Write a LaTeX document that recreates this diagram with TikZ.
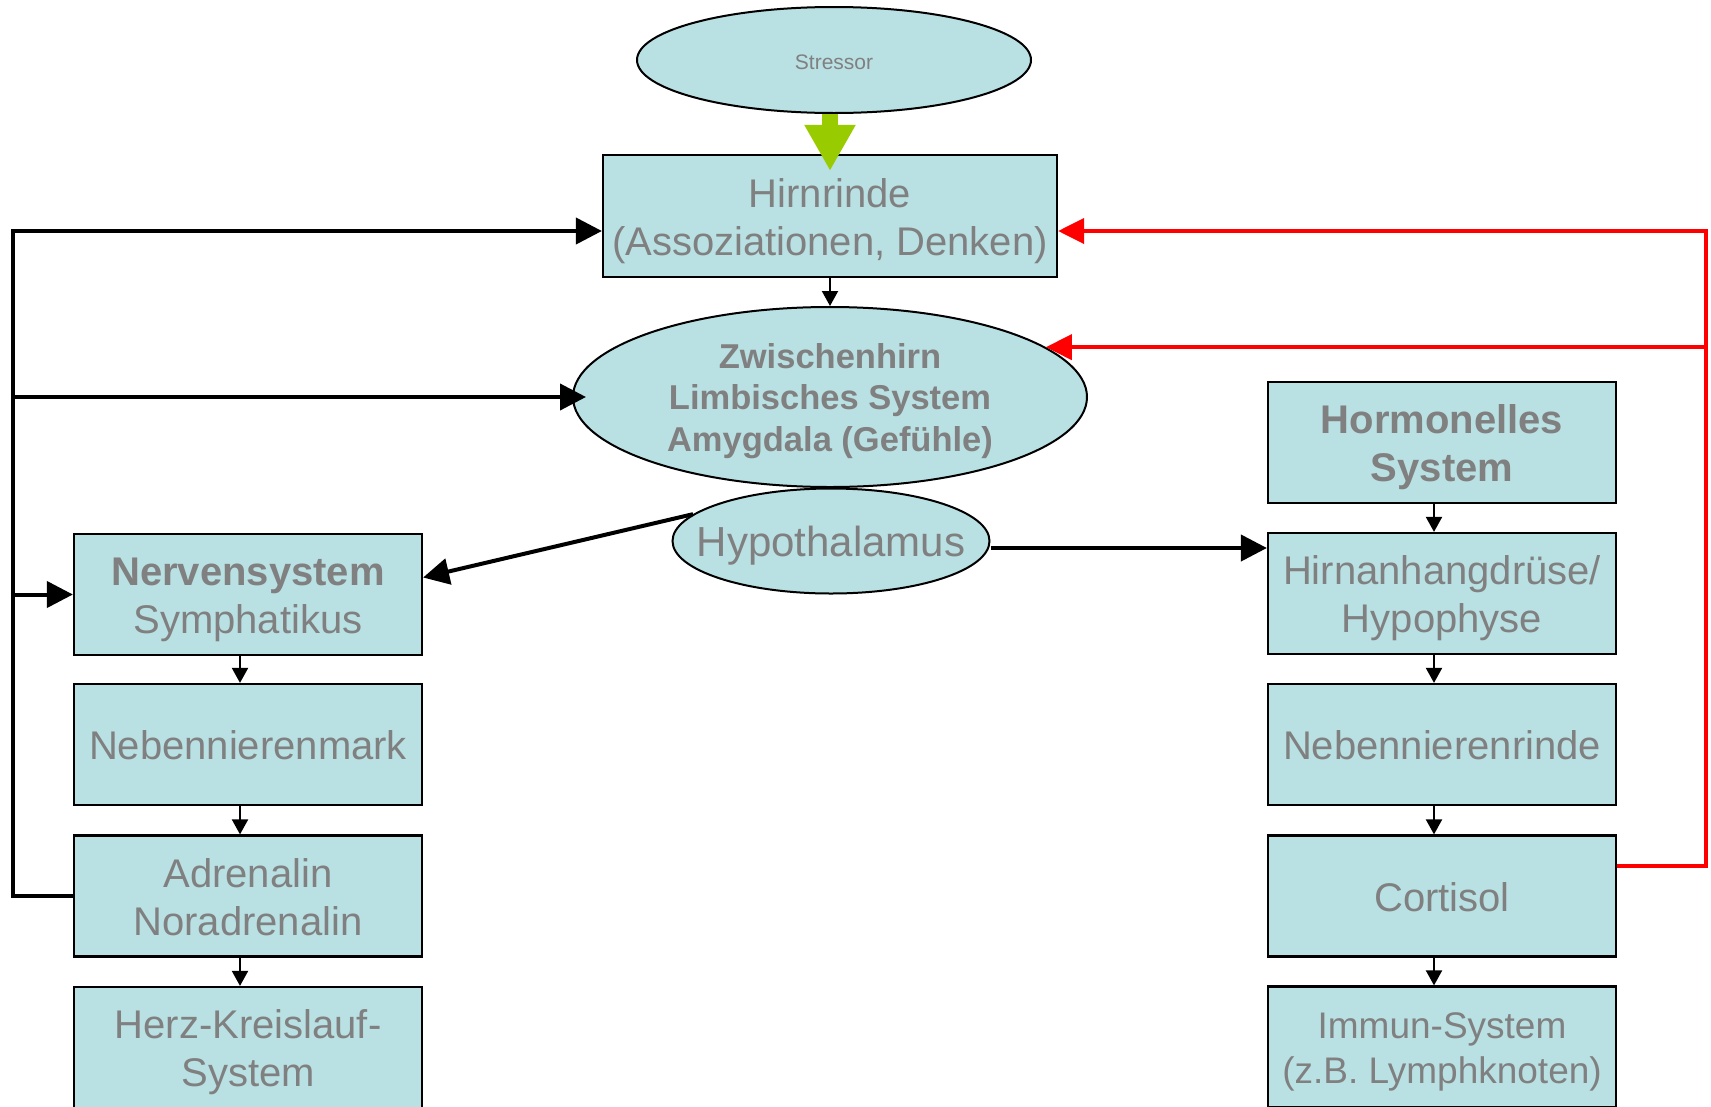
\documentclass[tikz,border=0pt]{standalone}
\usepackage{fontspec}
\setmainfont{Liberation Sans}
\usetikzlibrary{arrows.meta,shapes.geometric}
\definecolor{boxfill}{RGB}{185,224,227}
\definecolor{txtgray}{RGB}{128,128,128}
\definecolor{arrgreen}{RGB}{153,204,0}
\definecolor{fbred}{RGB}{255,0,0}
\begin{document}
\begin{tikzpicture}[x=1pt,y=-1pt,
  box/.style={draw=black,line width=2.2pt,fill=boxfill,minimum width=348pt,minimum height=121pt,inner sep=0pt,align=center,text=txtgray,font=\fontsize{40}{48}\selectfont,text height=40pt,text depth=10pt},
  two/.style={text height=88pt},
  oval/.style={ellipse,draw=black,line width=2pt,fill=boxfill,inner sep=0pt,align=center,text=txtgray},
  bigarr/.style={line width=4pt,-{Triangle[length=26pt,width=26pt]}},
  smarr/.style={line width=2pt,-{Triangle[length=15pt,width=16pt]}},
  redarr/.style={color=fbred,line width=4pt,-{Triangle[length=26pt,width=25pt]}}]
\useasboundingbox (0,0) rectangle (1711,1106);
\clip (0,0) rectangle (1711,1106);
% nodes
\node[oval,minimum width=394pt,minimum height=106pt,font=\fontsize{21}{25}\selectfont,text height=22pt,text depth=4pt] (stress) at (834,60) {Stressor};
\node[box,two,minimum width=454pt,minimum height=122pt] (hirn) at (830,216) {Hirnrinde\\(Assoziationen, Denken)};
\node[oval,minimum width=514pt,minimum height=180pt,font=\bfseries\fontsize{34.5}{41.5}\selectfont,text height=117.5pt,text depth=8.6pt] (zw) at (830,397) {Zwischenhirn\\Limbisches System\\Amygdala (Gefühle)};
\node[oval,minimum width=317pt,minimum height=105pt,font=\fontsize{42}{50}\selectfont,text height=42pt,text depth=10.5pt] (hyp) at (831,541) {\makebox[0pt]{Hypothalamus}};
% left column
\node[box,two] (nerv) at (248,594.5) {\textbf{Nervensystem}\\Symphatikus};
\node[box] (nnm) at (248,744.5) {Nebennierenmark};
\node[box,two] (adr) at (248,896) {Adrenalin\\Noradrenalin};
\node[box,two] (herz) at (248,1047.5) {Herz-Kreislauf-\\System};
% right column
\node[box,two,font=\bfseries\fontsize{40}{48}\selectfont] (horm) at (1442,442.5) {Hormonelles\\System};
\node[box,two] (hyph) at (1442,593.5) {Hirnanhangdrüse/\\Hypophyse};
\node[box] (nnr) at (1442,744.5) {Nebennierenrinde};
\node[box] (cort) at (1442,896) {Cortisol};
\node[box,font=\fontsize{37}{45.5}\selectfont,text height=82.5pt,text depth=9.25pt] (imm) at (1442,1047) {Immun-System\\(z.B. Lymphknoten)};
% green arrow
\draw[arrgreen,line width=16pt,-{Triangle[length=46pt,width=48pt]}] (hirn.north |- stress.south) -- ([yshift=-17pt]hirn.north);
% center arrow
\draw[smarr] (hirn.south) -- (zw.north);
% left feedback
\coordinate (LT) at (13,231);
\draw[bigarr] (adr.west) -| (LT) -- (LT -| hirn.west);
\draw[bigarr,shorten >=-14pt] (LT |- zw.west) -- (zw.west);
\draw[bigarr] (LT |- nerv.west) -- (nerv.west);
% hypothalamus outputs
\draw[bigarr] (hyp.169) -- ([yshift=17pt]nerv.east);
\draw[bigarr] ([yshift=-7pt]hyp.east) -- ([yshift=-7pt]hyp.east -| hyph.west);
% column arrows
\draw[smarr] ([xshift=-8pt]nerv.south) -- ([xshift=-8pt]nnm.north);
\draw[smarr] ([xshift=-8pt]nnm.south) -- ([xshift=-8pt]adr.north);
\draw[smarr] ([xshift=-8pt]adr.south) -- ([xshift=-8pt]herz.north);
\draw[smarr] ([xshift=-8pt]horm.south) -- ([xshift=-8pt]hyph.north);
\draw[smarr] ([xshift=-8pt]hyph.south) -- ([xshift=-8pt]nnr.north);
\draw[smarr] ([xshift=-8pt]nnr.south) -- ([xshift=-8pt]cort.north);
\draw[smarr] ([xshift=-8pt]cort.south) -- ([xshift=-8pt]imm.north);
% red feedback
\coordinate (RT) at (1706,231);
\draw[redarr] ([yshift=30pt]cort.east) -| (RT) -- (RT -| hirn.east);
\draw[redarr] (RT |- zw.13) -- (zw.13);
\end{tikzpicture}
\end{document}
